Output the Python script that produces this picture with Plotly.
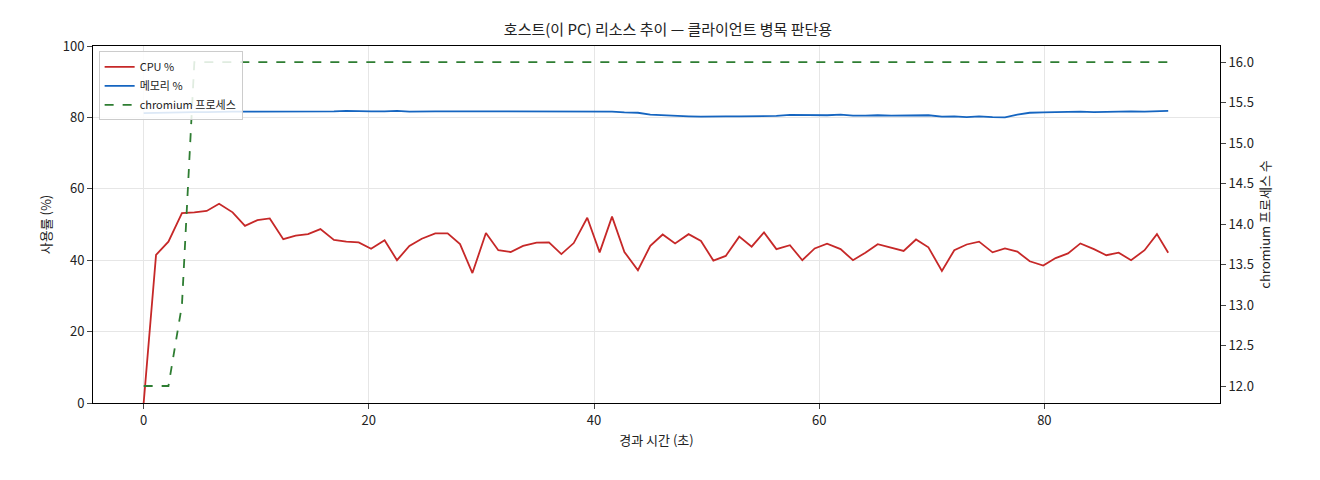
import plotly.graph_objects as go

# 경과 시간 (초)
t = [0.0, 1.1, 2.2, 3.4, 4.5, 5.6, 6.7, 7.9, 9.0, 10.1, 11.2, 12.4, 13.5, 14.6, 15.7, 16.9,
     18.0, 19.1, 20.2, 21.4, 22.5, 23.6, 24.7, 25.9, 27.0, 28.1, 29.2, 30.4, 31.5, 32.6, 33.7,
     34.9, 36.0, 37.1, 38.2, 39.4, 40.5, 41.6, 42.7, 43.9, 45.0, 46.1, 47.2, 48.4, 49.5, 50.6,
     51.7, 52.9, 54.0, 55.1, 56.2, 57.4, 58.5, 59.6, 60.7, 61.9, 63.0, 64.1, 65.2, 66.4, 67.5,
     68.6, 69.7, 70.9, 72.0, 73.1, 74.2, 75.4, 76.5, 77.6, 78.7, 79.9, 81.0, 82.1, 83.2, 84.4,
     85.5, 86.6, 87.7, 88.9, 90.0, 91.0]

cpu = [0.0, 41.5, 45.2, 53.2, 53.4, 53.8, 55.8, 53.4, 49.6, 51.2, 51.7, 45.9, 46.9, 47.3, 48.7,
       45.7, 45.2, 45.0, 43.2, 45.6, 40.0, 44.0, 46.0, 47.5, 47.5, 44.5, 36.4, 47.6, 42.8, 42.3,
       44.0, 44.9, 45.0, 41.7, 44.8, 51.9, 42.2, 52.2, 42.3, 37.2, 44.0, 47.2, 44.7, 47.3, 45.4,
       39.9, 41.2, 46.6, 43.8, 47.8, 43.1, 44.2, 40.0, 43.3, 44.6, 43.1, 40.0, 42.1, 44.5, 43.6,
       42.6, 45.8, 43.6, 37.0, 42.8, 44.4, 45.2, 42.2, 43.3, 42.4, 39.7, 38.5, 40.6, 41.9, 44.7,
       43.1, 41.4, 42.1, 40.0, 42.8, 47.3, 42.1]

mem = [81.2, 81.3, 81.4, 81.4, 81.5, 81.5, 81.6, 81.6, 81.6, 81.6, 81.6, 81.5, 81.5, 81.6, 81.7,
       81.7, 81.8, 81.7, 81.7, 81.7, 81.8, 81.6, 81.7, 81.7, 81.7, 81.7, 81.8, 81.7, 81.7, 81.8,
       81.7, 81.6, 81.7, 81.7, 81.7, 81.6, 81.7, 81.6, 81.4, 81.3, 80.8, 80.6, 80.4, 80.3, 80.2,
       80.3, 80.3, 80.3, 80.3, 80.4, 80.4, 80.7, 80.6, 80.7, 80.6, 80.8, 80.5, 80.5, 80.6, 80.5,
       80.5, 80.5, 80.6, 80.2, 80.3, 80.1, 80.3, 80.1, 80.0, 80.8, 81.3, 81.4, 81.5, 81.5, 81.6,
       81.5, 81.6, 81.5, 81.7, 81.6, 81.7, 81.8]

chromium = [12, 12, 12, 13] + [16] * 78

fig = go.Figure()
fig.add_trace(go.Scatter(x=t, y=cpu, name="CPU %", mode="lines",
                         line=dict(color="#c62828", width=1.8)))
fig.add_trace(go.Scatter(x=t, y=mem, name="메모리 %", mode="lines",
                         line=dict(color="#1565c0", width=1.8)))
fig.add_trace(go.Scatter(x=t, y=chromium, name="chromium 프로세스", mode="lines", yaxis="y2",
                         line=dict(color="#2e7d32", width=1.8, dash="dash")))

font = "Noto Sans CJK KR, DejaVu Sans, sans-serif"
fig.update_layout(
    width=1320, height=480,
    paper_bgcolor="white", plot_bgcolor="white",
    margin=dict(l=85, r=108, t=38, b=85),
    font=dict(family=font, size=13, color="#222"),
    title=dict(text="호스트(이 PC) 리소스 추이 — 클라이언트 병목 판단용", x=0.5, xanchor="center",
               y=0.955, yanchor="middle", font=dict(size=15)),
    xaxis=dict(title=dict(text="경과 시간 (초)", standoff=8, font=dict(size=13)), range=[-4.5, 95.6],
               tickvals=[0, 20, 40, 60, 80], showgrid=True, gridcolor="#e6e6e6",
               showline=True, linecolor="black", mirror=True, ticks="outside",
               zeroline=False),
    yaxis=dict(title=dict(text="사용률 (%)", standoff=8, font=dict(size=13)), range=[0, 100], dtick=20,
               showgrid=True, gridcolor="#e6e6e6", showline=True, linecolor="black",
               ticks="outside", zeroline=False),
    yaxis2=dict(title=dict(text="chromium 프로세스 수", standoff=8, font=dict(size=13)), overlaying="y",
                side="right", range=[11.79, 16.2], tickvals=[12, 12.5, 13, 13.5, 14, 14.5,
                15, 15.5, 16], tickformat=".1f", showgrid=False, showline=True,
                linecolor="black", ticks="outside", zeroline=False),
    legend=dict(x=0.005, y=0.985, xanchor="left", yanchor="top", bgcolor="rgba(255,255,255,0.85)",
                bordercolor="#cccccc", borderwidth=1, font=dict(size=11)),
)

fig.write_html("out.html")
